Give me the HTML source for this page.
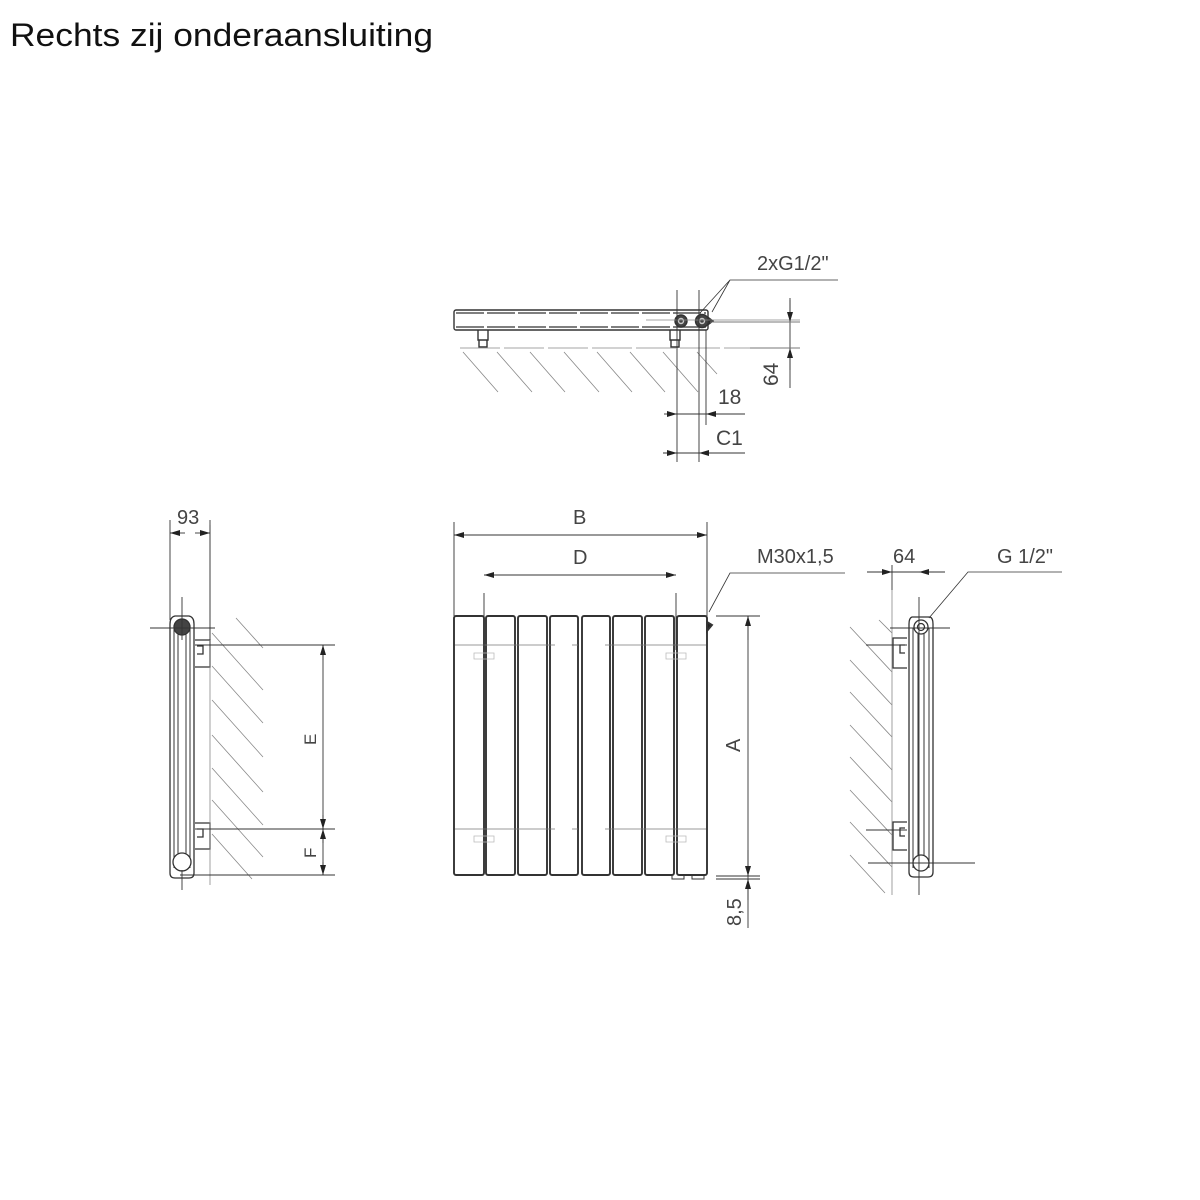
<!DOCTYPE html>
<html><head><meta charset="utf-8"><style>
html,body{margin:0;padding:0;background:#fff;width:1200px;height:1200px;overflow:hidden}
svg{display:block}
text{font-family:"Liberation Sans",sans-serif;fill:#444}
</style></head><body>
<svg width="1200" height="1200" viewBox="0 0 1200 1200" xmlns="http://www.w3.org/2000/svg">
<defs>
<marker id="a" viewBox="0 0 10 6" refX="10" refY="3" markerWidth="10" markerHeight="6" orient="auto-start-reverse" markerUnits="userSpaceOnUse"><path d="M0,0L10,3L0,6z" fill="#222"/></marker>
</defs>
<text x="10" y="46" font-size="32" fill="#111" style="fill:#111" textLength="423" lengthAdjust="spacingAndGlyphs">Rechts zij onderaansluiting</text>

<!-- TOP VIEW -->
<g stroke="#333" fill="none" stroke-width="1.4">
<rect x="454" y="310" width="254" height="20" rx="2"/>
<path d="M456 313H706M456 327H706" stroke="#555" stroke-dasharray="28 3"/>
<path d="M478 330v10h10v-10M479 340v7h8v-7M670 330v10h10v-10M671 340v7h8v-7"/>
<circle cx="681" cy="321" r="6" fill="#444"/><circle cx="681" cy="321" r="2.5" stroke="#ccc"/>
<circle cx="702" cy="321" r="6.5" fill="#444"/><circle cx="702" cy="321" r="2.5" stroke="#ccc"/>
<path d="M709 318l4 3-4 3z" fill="#222"/>
</g>
<g stroke="#888" stroke-width="0.8" fill="none">
<path d="M460 348H758M772 348H798" stroke-dasharray="40 4"/>
<path d="M463 352l35 40M497 352l35 40M530 352l35 40M564 352l35 40M597 352l35 40M630 352l35 40M663 352l35 40M697 352l20 22"/>
<path d="M646 320H800"/>
</g>
<g stroke="#333" stroke-width="0.9" fill="none">
<path d="M677 290V462M699 290V462M706 330V425"/>
<path d="M790 298V388"/>
<path d="M790 300V322" marker-end="url(#a)"/><path d="M790 370V348" marker-end="url(#a)"/>
<path d="M750 348H800M710 322H800" stroke="#777"/>
<path d="M675 414H745"/>
<path d="M664 414H677" marker-end="url(#a)"/>
<path d="M720 414H706" marker-end="url(#a)"/>
<path d="M663 453H745"/>
<path d="M664 453H677" marker-end="url(#a)"/>
<path d="M712 453H699" marker-end="url(#a)"/>
<path d="M700 313L730 280H838M712 312L730 280" stroke-width="0.8"/>
</g>
<text x="757" y="270" font-size="20">2xG1/2"</text>
<text x="718" y="404" font-size="21">18</text>
<text x="716" y="445" font-size="21">C1</text>
<text transform="translate(778,386) rotate(-90)" font-size="21">64</text>

<!-- FRONT VIEW -->
<g stroke="#333" stroke-width="1.9" fill="none">
<rect x="454" y="616" width="30" height="259" rx="2"/>
<rect x="486" y="616" width="29" height="259" rx="2"/>
<rect x="518" y="616" width="29" height="259" rx="2"/>
<rect x="550" y="616" width="28" height="259" rx="2"/>
<rect x="582" y="616" width="28" height="259" rx="2"/>
<rect x="613" y="616" width="29" height="259" rx="2"/>
<rect x="645" y="616" width="29" height="259" rx="2"/>
<rect x="677" y="616" width="30" height="259" rx="2"/>
<path d="M707 622l5 3-5 6z" fill="#222"/>
<path d="M672 875v4h12v-4M692 875v4h12v-4" stroke-width="1"/>
</g>
<g stroke="#777" stroke-width="0.8" fill="none">
<path d="M455 645H555M572 645H578M605 645H706M455 829H555M572 829H578M605 829H706"/>
<path d="M474 653h20v6h-20zM666 653h20v6h-20zM474 836h20v6h-20zM666 836h20v6h-20z" stroke="#bbb"/>
</g>
<g stroke="#333" stroke-width="0.9" fill="none">
<path d="M454 522V616M707 522V616M484 593V650M676 593V650"/>
<path d="M480 535H454" marker-end="url(#a)"/><path d="M680 535H707" marker-end="url(#a)"/><path d="M470 535H690"/>
<path d="M505 575H484" marker-end="url(#a)"/><path d="M655 575H676" marker-end="url(#a)"/><path d="M500 575H660"/>
<path d="M716 616H760M716 876H760M716 879H760"/>
<path d="M748 616V928"/>
<path d="M748 640V616" marker-end="url(#a)"/><path d="M748 850V876" marker-end="url(#a)"/>
<path d="M748 900V879" marker-end="url(#a)"/>
<path d="M709 612L730 573H845" stroke-width="0.8"/>
</g>
<text x="573" y="524" font-size="20">B</text>
<text x="573" y="564" font-size="20">D</text>
<text x="757" y="563" font-size="20">M30x1,5</text>
<text transform="translate(740,752) rotate(-90)" font-size="20">A</text>
<text transform="translate(741,926) rotate(-90)" font-size="20">8,5</text>

<!-- LEFT SIDE VIEW -->
<g stroke="#333" stroke-width="1.3" fill="none">
<path d="M170 624q0-7 5-8h14q5 1 5 8V873q0 5-5 5H175q-5 0-5-5z"/>
<path d="M174 628V868M178 632V866M186 632V866M190 628V868" stroke-width="1"/>
<circle cx="182" cy="627" r="8" fill="#444"/>
<circle cx="182" cy="862" r="9" fill="#fff"/>
<path d="M195 640h15v27h-15M197 646h6v8h-6M195 823h15v26h-15M197 829h6v8h-6"/>
</g>
<g stroke="#888" stroke-width="0.8" fill="none">
<path d="M210 525V885"/>
<path d="M236 618l27 30M212 633l51 57M212 666l51 57M212 700l51 57M212 735l51 57M212 768l51 57M212 800l51 57M212 834l40 45"/>
</g>
<g stroke="#333" stroke-width="0.9" fill="none">
<path d="M170 520V620M210 520V640M182 597V640M182 870V890"/>
<path d="M150 628H215"/>
<path d="M195 645H335M195 829H335M180 875H335"/>
<path d="M185 533H170" marker-end="url(#a)"/><path d="M195 533H210" marker-end="url(#a)"/>
<path d="M323 645V875"/>
<path d="M323 660V645" marker-end="url(#a)"/><path d="M323 815V829" marker-end="url(#a)"/>
<path d="M323 843V829" marker-end="url(#a)"/><path d="M323 862V875" marker-end="url(#a)"/>
</g>
<text x="177" y="524" font-size="20">93</text>
<text transform="translate(316,745) rotate(-90)" font-size="17">E</text>
<text transform="translate(316,858) rotate(-90)" font-size="17">F</text>

<!-- RIGHT SIDE VIEW -->
<g stroke="#333" stroke-width="1.3" fill="none">
<path d="M909 624q0-6 3-7h18q3 1 3 7V872q0 5-5 5H914q-5 0-5-5z"/>
<path d="M913 628V868M918 630V866M924 630V866M929 628V868" stroke-width="1"/>
<circle cx="921" cy="627" r="7" fill="#fff"/><circle cx="921" cy="627" r="3.5"/>
<circle cx="921" cy="863" r="8" fill="#fff"/>
<path d="M907 638h-14v30h14M905 645h-5v8h5M907 822h-14v28h14M905 828h-5v8h5"/>
</g>
<g stroke="#888" stroke-width="0.8" fill="none">
<path d="M892 590V895"/>
<path d="M879 620l13 13M850 627l42 45M850 660l42 45M850 692l42 45M850 725l42 45M850 757l42 45M850 790l42 45M850 822l42 45M850 855l35 38"/>
</g>
<g stroke="#333" stroke-width="0.9" fill="none">
<path d="M919 597V895M892 565V590"/>
<path d="M867 572H945"/>
<path d="M877 572H892" marker-end="url(#a)"/><path d="M934 572H919" marker-end="url(#a)"/>
<path d="M890 628H950M866 645H907M866 830H907M868 863H975"/>
<path d="M929 618L968 572H1062" stroke-width="0.8"/>
</g>
<text x="893" y="563" font-size="20">64</text>
<text x="997" y="563" font-size="20">G 1/2"</text>
</svg>
</body></html>
